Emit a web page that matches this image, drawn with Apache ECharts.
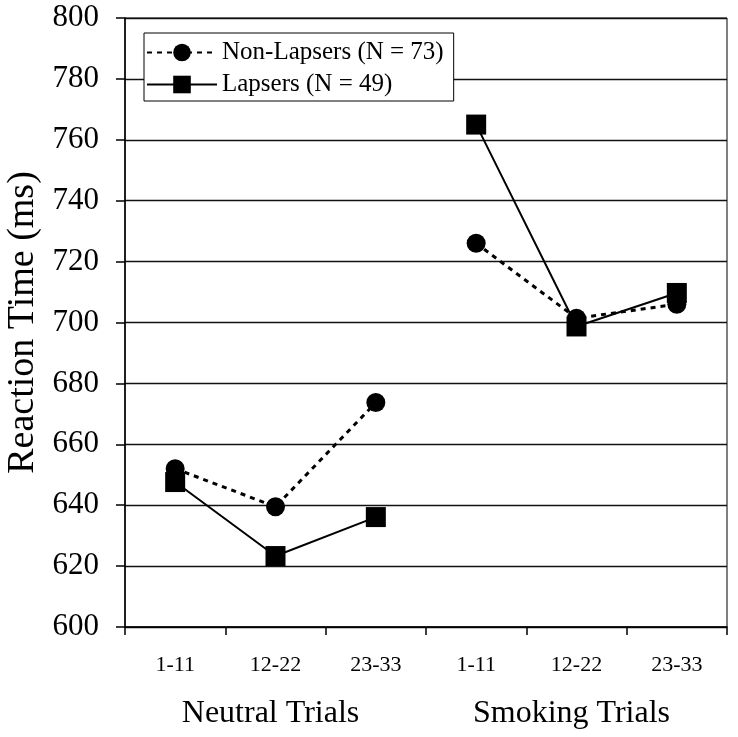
<!DOCTYPE html>
<html>
<head>
<meta charset="utf-8">
<script src="https://cdn.jsdelivr.net/npm/echarts@6/dist/echarts.min.js"></script>
<style>
html,body{margin:0;padding:0;background:#fff;}
#chart{width:738px;height:737px;}
</style>
</head>
<body>
<div id="chart"></div>
<script>
// ---- data ----
const categories = ['1-11', '12-22', '23-33', '1-11', '12-22', '23-33'];
const groups = ['Neutral Trials', 'Smoking Trials'];
const groupSize = 3;
const nonLapsers = [652, 639.5, 673.7, 726, 701.4, 706];
const lapsers = [647.6, 623.3, 636.1, 765, 698.7, 709.7];
const seriesNames = ['Non-Lapsers (N = 73)', 'Lapsers (N = 49)'];
const yTicks = { min: 600, max: 800, interval: 20 };

const FONT = "'Liberation Serif', 'Times New Roman', serif";

function splitGroup(values, g) {
  return values.map((v, i) => (Math.floor(i / groupSize) === g ? v : '-'));
}

const styles = [
  { symbol: 'circle', symbolSize: 19, lineStyle: { color: '#000', width: 3, type: [5, 5] } },
  { symbol: 'rect', symbolSize: 20, lineStyle: { color: '#000', width: 2, type: 'solid' } }
];

const series = [];
[nonLapsers, lapsers].forEach((vals, si) => {
  groups.forEach((_, g) => {
    series.push({
      name: seriesNames[si],
      type: 'line',
      xAxisIndex: 0,
      yAxisIndex: 0,
      data: splitGroup(vals, g),
      symbol: styles[si].symbol,
      symbolSize: styles[si].symbolSize,
      itemStyle: { color: '#000' },
      lineStyle: styles[si].lineStyle,
      connectNulls: false,
      silent: true,
      animation: false
    });
  });
});

const chart = echarts.init(document.getElementById('chart'), null, { renderer: 'canvas' });
chart.setOption({
  backgroundColor: '#fff',
  animation: false,
  textStyle: { fontFamily: FONT, color: '#000' },
  grid: {
    left: 125, right: 11, top: 18, bottom: 110,
    containLabel: false, outerBoundsMode: 'none',
    show: true, borderColor: '#000', borderWidth: 1
  },
  legend: {
    data: seriesNames,
    orient: 'vertical',
    left: 144,
    top: 33,
    backgroundColor: '#fff',
    borderColor: '#000',
    borderWidth: 1,
    padding: [7, 10, 4, 2],
    itemGap: 7,
    itemWidth: 70,
    itemHeight: 22,
    textStyle: { fontFamily: FONT, fontSize: 25, color: '#000' },
    selectedMode: false
  },
  xAxis: [
    {
      type: 'category',
      data: categories,
      boundaryGap: true,
      axisLine: { lineStyle: { color: '#000', width: 1.5 } },
      axisTick: { show: true, length: 8, inside: false, lineStyle: { color: '#000', width: 1.5 } },
      axisLabel: { fontFamily: FONT, fontSize: 22, color: '#000', margin: 27, interval: 0 },
      splitLine: { show: false }
    },
    {
      type: 'category',
      data: groups,
      position: 'bottom',
      boundaryGap: true,
      axisLine: { show: false },
      axisTick: { show: false },
      axisLabel: { fontFamily: FONT, fontSize: 32, color: '#000', margin: 71, interval: 0, padding: [0, 10, 0, 0] },
      splitLine: { show: false }
    }
  ],
  yAxis: {
    type: 'value',
    min: yTicks.min,
    max: yTicks.max,
    interval: yTicks.interval,
    name: 'Reaction Time (ms)',
    nameLocation: 'middle',
    nameGap: 80,
    nameTextStyle: { fontFamily: FONT, fontSize: 38, color: '#000' },
    axisLine: { show: true, lineStyle: { color: '#000', width: 1.5 } },
    axisTick: { show: true, length: 9, inside: false, lineStyle: { color: '#000', width: 1.5 } },
    axisLabel: { fontFamily: FONT, fontSize: 31, color: '#000', margin: 26 },
    splitLine: { show: true, lineStyle: { color: '#111', width: 1.3 } }
  },
  series: series
});
</script>
</body>
</html>
